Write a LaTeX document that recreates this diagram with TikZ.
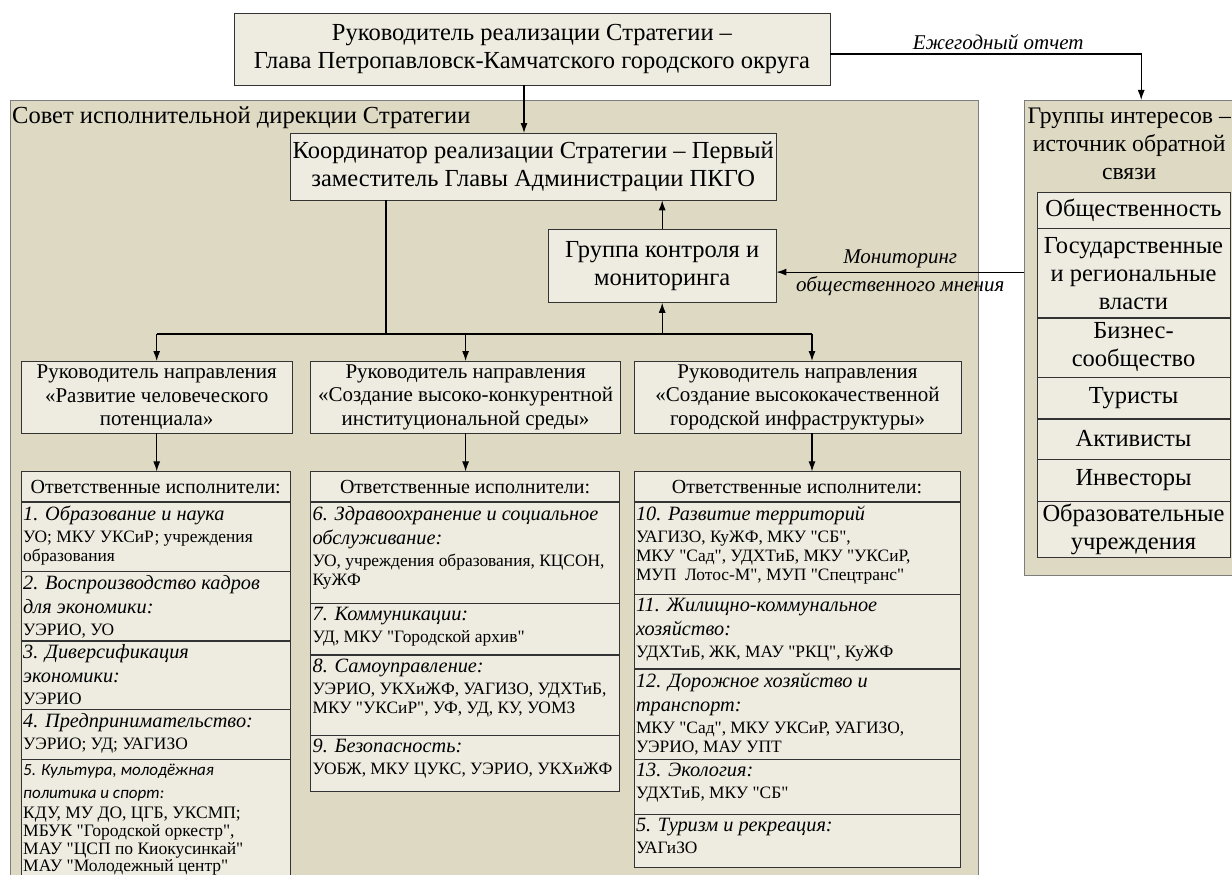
\documentclass[tikz,border=0pt]{standalone}
\usepackage{fontspec}
\setmainfont{Liberation Serif}[Ligatures=TeXOff]
\newfontfamily\calibri{Carlito}
\usetikzlibrary{arrows.meta,positioning}
\definecolor{panelfill}{RGB}{221,217,195}
\definecolor{boxfill}{RGB}{238,236,225}
\definecolor{edgegray}{RGB}{125,125,125}
\newcommand{\bigtext}{\fontsize{24.5}{28}\selectfont}
\newcommand{\midtext}{\fontsize{21}{23.5}\selectfont}
\newcommand{\ttl}[1]{{\itshape\fontsize{20.3}{24}\selectfont #1\par}}
\newcommand{\ttlc}[1]{{\calibri\itshape\fontsize{17}{23}\selectfont #1\par}}
\newcommand{\bdy}[1]{{\fontsize{17.4}{19}\selectfont\vspace{3pt}#1\par}}
\newcommand{\cellbox}[3]{\parbox[t][#2][t]{#1}{\raggedright\vspace*{4pt}#3}}

\begin{document}
\begin{tikzpicture}[x=1pt,y=-1pt]
  \tikzset{
    panel/.style={draw=edgegray, fill=panelfill, inner sep=0pt, anchor=north west},
    box/.style={draw=black!80, fill=boxfill, align=center, font=\bigtext, inner sep=0pt},
    dir/.style={box, font=\midtext, minimum height=72pt},
    exec/.style={box, font=\fontsize{20}{23}\selectfont, minimum height=30pt},
    item/.style={draw=black!80, fill=boxfill, inner xsep=2pt, inner ysep=0pt},
    group/.style={box, minimum width=193pt},
    tag/.style={font=\itshape\fontsize{21}{24}\selectfont},
    line/.style={draw, -{Latex[length=10pt,width=7pt]}, line width=1.1pt},
  }
  \useasboundingbox (0,0) rectangle (1232,875);

  % panels
  \node [panel, minimum width=968pt, minimum height=790pt] (council) at (10,100) {};
  \node [anchor=north west, font=\bigtext, inner sep=2pt] (counciltitle) at ([yshift=-5pt]council.north west) {Совет исполнительной дирекции Стратегии};
  \node [panel, minimum width=234pt, minimum height=475pt] (groups) at (1024,100) {};
  \node [anchor=north, font=\fontsize{23.7}{28}\selectfont, align=center, inner sep=0pt] (groupstitle) at ([xshift=-12pt,yshift=-8pt]groups.north) {Группы интересов –\\источник обратной\\связи};

  % top level
  \node [box, minimum width=596pt, minimum height=72pt] (head) at (532,49) {Руководитель реализации Стратегии –\\Глава Петропавловск-Камчатского городского округа};
  \node [box, minimum width=486pt, minimum height=67pt, anchor=north west] (coord) at (290,133) {Координатор реализации Стратегии – Первый\\заместитель Главы Администрации ПКГО};
  \node [box, minimum width=228pt, minimum height=73pt, below=29pt of coord.south east, anchor=north east] (control) {Группа контроля и\\мониторинга};

  % directions
  \node [dir, minimum width=271pt, anchor=north west] (dirA) at (21,361) {Руководитель направления\\«Развитие человеческого\\потенциала»};
  \node [dir, minimum width=310pt, right=18pt of dirA] (dirB) {Руководитель направления\\«Создание высоко-конкурентной\\институциональной среды»};
  \node [dir, minimum width=327pt, right=13pt of dirB] (dirC) {Руководитель направления\\«Создание высококачественной\\городской инфраструктуры»};

  % executors, column A
  \node [exec, minimum width=269pt, below=38pt of dirA.south west, anchor=north west] (execA) {Ответственные исполнители:};
  \node [item, below=0pt of execA] (a1) {\cellbox{265pt}{69pt}{\ttl{1. Образование и наука}\bdy{УО; МКУ УКСиР; учреждения\\образования}}};
  \node [item, below=0pt of a1] (a2) {\cellbox{265pt}{69pt}{\ttl{2. Воспроизводство кадров\\для экономики:}\bdy{УЭРИО, УО}}};
  \node [item, below=0pt of a2] (a3) {\cellbox{265pt}{68pt}{\ttl{3. Диверсификация\\экономики:}\bdy{УЭРИО}}};
  \node [item, below=0pt of a3] (a4) {\cellbox{265pt}{50pt}{\ttl{4. Предпринимательство:}\bdy{УЭРИО; УД; УАГИЗО}}};
  \node [item, below=0pt of a4] (a5) {\cellbox{265pt}{116pt}{\ttlc{5. Культура, молодёжная\\политика и спорт:}{\fontsize{17.5}{17.7}\selectfont\vspace{3pt}КДУ, МУ ДО, ЦГБ, УКСМП;\\МБУК "Городской оркестр",\\МАУ "ЦСП по Киокусинкай"\\МАУ "Молодежный центр"\par}}};

  % executors, column B
  \node [exec, minimum width=309pt, below=38pt of dirB.south west, anchor=north west] (execB) {Ответственные исполнители:};
  \node [item, below=0pt of execB] (b1) {\cellbox{305pt}{101pt}{\ttl{6. Здравоохранение и социальное\\обслуживание:}\bdy{УО, учреждения образования, КЦСОН,\\КуЖФ}}};
  \node [item, below=0pt of b1] (b2) {\cellbox{305pt}{51pt}{\ttl{7. Коммуникации:}\bdy{УД, МКУ "Городской архив"}}};
  \node [item, below=0pt of b2] (b3) {\cellbox{305pt}{80pt}{\ttl{8. Самоуправление:}\bdy{УЭРИО, УКХиЖФ, УАГИЗО, УДХТиБ,\\МКУ "УКСиР", УФ, УД, КУ, УОМЗ}}};
  \node [item, below=0pt of b3] (b4) {\cellbox{305pt}{56pt}{\ttl{9. Безопасность:}\bdy{УОБЖ, МКУ ЦУКС, УЭРИО, УКХиЖФ}}};

  % executors, column C
  \node [exec, minimum width=326pt, below=38pt of dirC.south west, anchor=north west] (execC) {Ответственные исполнители:};
  \node [item, below=0pt of execC] (c1) {\cellbox{322pt}{92pt}{\ttl{10. Развитие территорий}\bdy{УАГИЗО, КуЖФ, МКУ "СБ",\\МКУ "Сад", УДХТиБ, МКУ "УКСиР,\\МУП\ \ Лотос-М", МУП "Спецтранс"}}};
  \node [item, below=0pt of c1] (c2) {\cellbox{322pt}{74pt}{\ttl{11. Жилищно-коммунальное\\хозяйство:}\bdy{УДХТиБ, ЖК, МАУ "РКЦ", КуЖФ}}};
  \node [item, below=0pt of c2] (c3) {\cellbox{322pt}{90pt}{\ttl{12. Дорожное хозяйство и\\транспорт:}\bdy{МКУ "Сад", МКУ УКСиР, УАГИЗО,\\УЭРИО, МАУ УПТ}}};
  \node [item, below=0pt of c3] (c4) {\cellbox{322pt}{55pt}{\ttl{13. Экология:}\bdy{УДХТиБ, МКУ "СБ"}}};
  \node [item, below=0pt of c4] (c5) {\cellbox{322pt}{53pt}{\ttl{5. Туризм и рекреация:}\bdy{УАГиЗО}}};

  % interest groups
  \node [group, minimum height=36pt, anchor=north] (g1) at (1133.5,192) {Общественность};
  \node [group, minimum height=89pt, below=0pt of g1] (g2) {Государственные\\и региональные\\власти};
  \node [group, minimum height=59pt, below=0pt of g2] (g3) {Бизнес-\\сообщество};
  \node [group, minimum height=41pt, below=0pt of g3] (g4) {Туристы};
  \node [group, minimum height=40pt, below=0pt of g4] (g5) {Активисты};
  \node [group, minimum height=42pt, below=0pt of g5] (g6) {Инвесторы};
  \node [group, minimum height=56pt, below=0pt of g6] (g7) {Образовательные\\учреждения};

  % connectors
  \coordinate (fork) at (386,334);
  \coordinate (forkC) at (812,334);
  \coordinate (mon) at ([yshift=-6pt]control.east);
  \path [line] ([xshift=-8pt]head.south) -- ([xshift=-8pt]head.south |- coord.north);
  \path [line] ([yshift=-5pt]head.east) -| node[pos=0.27, above, tag]{Ежегодный отчет} (groups.north);
  \path [line] (control.north) -- (control.north |- coord.south);
  \draw [line width=1.1pt] (coord.south -| fork) -- (fork);
  \draw [line width=1.1pt] (dirA.north |- fork) -- (forkC);
  \path [line] (dirA.north |- fork) -- (dirA.north);
  \path [line] (dirB.north |- fork) -- (dirB.north);
  \path [line] (forkC) -- (forkC |- dirC.north);
  \path [line] (control.south |- fork) -- (control.south);
  \path [line] (dirA.south) -- (dirA.south |- execA.north);
  \path [line] (dirB.south) -- (dirB.south |- execB.north);
  \path [line] (forkC |- dirC.south) -- (forkC |- execC.north);
  \path [line] (groups.west |- mon) -- node[above, tag]{Мониторинг} node[below, tag]{общественного мнения} (mon);
\end{tikzpicture}
\end{document}
